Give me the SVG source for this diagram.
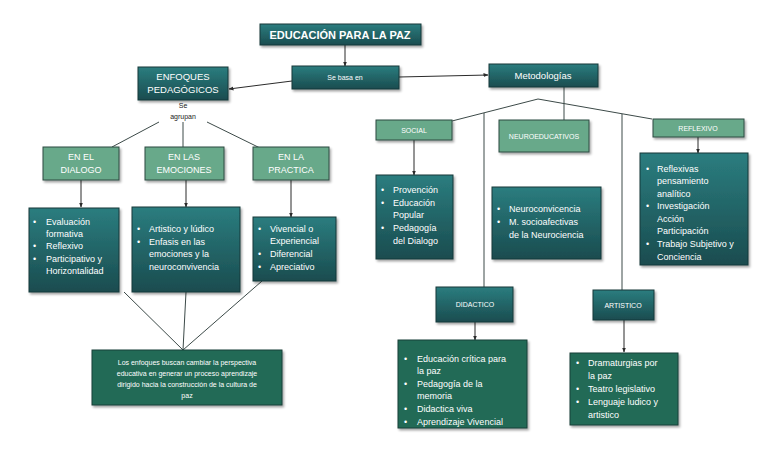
<svg xmlns="http://www.w3.org/2000/svg" width="768" height="466" viewBox="0 0 768 466">
<defs>
<linearGradient id="teal" x1="0" y1="0" x2="0" y2="1">
<stop offset="0" stop-color="#2b7d7f"/>
<stop offset="1" stop-color="#1a4c4f"/>
</linearGradient>
<filter id="sh" x="-10%" y="-10%" width="130%" height="140%">
<feDropShadow dx="1.5" dy="2" stdDeviation="1.2" flood-color="#000" flood-opacity="0.35"/>
</filter>
<marker id="ah" viewBox="0 0 10 10" refX="9" refY="5" markerWidth="5" markerHeight="5" orient="auto">
<path d="M0,1 L10,5 L0,9 z" fill="#2b2b2b"/>
</marker>
<style>
.dk{fill:url(#teal);stroke:#17383a;stroke-width:1;filter:url(#sh)}
.lg{fill:#68a98a;stroke:#2e4a40;stroke-width:1;filter:url(#sh)}
.gr{fill:#246b56;stroke:#1a3f36;stroke-width:1;filter:url(#sh)}
text{font-family:"Liberation Sans","DejaVu Sans",sans-serif;fill:#ffffff}
.c{text-anchor:middle}
.l{font-size:9px}
.s{font-size:7px}
.dt{fill:#222222}
.ln{stroke:#3c4a48;stroke-width:1;fill:none}
.ar{stroke:#2b2b2b;stroke-width:1;fill:none;marker-end:url(#ah)}
</style>
</defs>
<rect width="768" height="466" fill="#ffffff"/>

<g id="connectors">
<line class="ar" x1="345" y1="45" x2="345" y2="66"/>
<line class="ar" x1="292" y1="81" x2="229" y2="89"/>
<line class="ar" x1="399" y1="77" x2="488" y2="75"/>
<line class="ln" x1="159" y1="122" x2="112" y2="147"/>
<line class="ln" x1="183" y1="122" x2="183" y2="147"/>
<line class="ln" x1="207" y1="122" x2="260" y2="148"/>
<line class="ar" x1="81" y1="180" x2="81" y2="207"/>
<line class="ar" x1="186" y1="180" x2="186" y2="207"/>
<line class="ar" x1="291" y1="180" x2="291" y2="217"/>
<line class="ln" x1="124" y1="292" x2="183" y2="350"/>
<line class="ln" x1="186" y1="292" x2="183" y2="350"/>
<line class="ln" x1="262" y1="281" x2="183" y2="350"/>
<line class="ln" x1="564" y1="87" x2="564" y2="120"/>
<polyline class="ln" points="452,121 538,99 652,119"/>
<line class="ln" x1="484" y1="113" x2="484" y2="287"/>
<line class="ln" x1="622" y1="114" x2="622" y2="290"/>
<line class="ar" x1="414" y1="140" x2="414" y2="175"/>
<line class="ar" x1="698" y1="137" x2="698" y2="153"/>
<line class="ar" x1="475" y1="322" x2="475" y2="340"/>
<line class="ar" x1="624" y1="320" x2="624" y2="352"/>
</g>

<g id="title">
<rect class="dk" x="260" y="24" width="161" height="21"/>
<text class="c" x="340" y="38.5" font-size="11" font-weight="bold">EDUCACIÓN PARA LA PAZ</text>
</g>
<g id="sebasa">
<rect class="dk" x="292" y="66" width="107" height="23"/>
<text class="c s" x="345" y="80">Se basa en</text>
</g>
<g id="enfoques">
<rect class="dk" x="138" y="67" width="90" height="33"/>
<text class="c" x="183" y="80" font-size="9.5">ENFOQUES</text>
<text class="c" x="183" y="93" font-size="9.5">PEDAGÓGICOS</text>
</g>
<g id="seagrupan">
<text class="c s dt" x="183" y="108">Se</text>
<text class="c s dt" x="183" y="119">agrupan</text>
</g>
<g id="metodologias">
<rect class="dk" x="489" y="64" width="109" height="23"/>
<text class="c" x="543" y="79" font-size="9.5">Metodologías</text>
</g>

<g id="endialogo">
<rect class="lg" x="43" y="147" width="76" height="33"/>
<text class="c" x="81" y="160" font-size="9">EN EL</text>
<text class="c" x="81" y="173" font-size="9">DIALOGO</text>
</g>
<g id="enemociones">
<rect class="lg" x="145" y="147" width="79" height="33"/>
<text class="c" x="184" y="160" font-size="9">EN LAS</text>
<text class="c" x="184" y="173" font-size="9">EMOCIONES</text>
</g>
<g id="enpractica">
<rect class="lg" x="253" y="147" width="76" height="33"/>
<text class="c" x="291" y="160" font-size="9">EN LA</text>
<text class="c" x="291" y="173" font-size="9">PRACTICA</text>
</g>

<g id="list-dialogo">
<rect class="dk" x="29" y="208" width="90" height="84"/>
<text class="l" x="33" y="225">•</text><text class="l" x="46" y="225">Evaluación</text>
<text class="l" x="46" y="237">formativa</text>
<text class="l" x="33" y="249">•</text><text class="l" x="46" y="249">Reflexivo</text>
<text class="l" x="33" y="262">•</text><text class="l" x="46" y="262">Participativo y</text>
<text class="l" x="46" y="274">Horizontalidad</text>
</g>
<g id="list-emociones">
<rect class="dk" x="132" y="207" width="108" height="85"/>
<text class="l" x="137" y="232">•</text><text class="l" x="149" y="232">Artistico y lúdico</text>
<text class="l" x="137" y="245">•</text><text class="l" x="149" y="245">Enfasis en las</text>
<text class="l" x="149" y="257">emociones y la</text>
<text class="l" x="149" y="270">neuroconvivencia</text>
</g>
<g id="list-practica">
<rect class="dk" x="253" y="217" width="83" height="64"/>
<text class="l" x="258" y="232">•</text><text class="l" x="270" y="232">Vivencial o</text>
<text class="l" x="270" y="244">Experiencial</text>
<text class="l" x="258" y="257">•</text><text class="l" x="270" y="257">Diferencial</text>
<text class="l" x="258" y="270">•</text><text class="l" x="270" y="270">Apreciativo</text>
</g>

<g id="conclusion">
<rect class="gr" x="92" y="350" width="190" height="55"/>
<text class="c" x="187" y="365" font-size="7">Los enfoques buscan cambiar la perspectiva</text>
<text class="c" x="187" y="376" font-size="7">educativa en generar un proceso aprendizaje</text>
<text class="c" x="187" y="387" font-size="7">dirigido hacia la construcción de la cultura de</text>
<text class="c" x="187" y="398" font-size="7">paz</text>
</g>

<g id="social">
<rect class="lg" x="376" y="120" width="76" height="20"/>
<text class="c s" x="414" y="133">SOCIAL</text>
</g>
<g id="neuroeducativos">
<rect class="lg" x="499" y="120" width="90" height="32"/>
<text class="c s" x="544" y="139">NEUROEDUCATIVOS</text>
</g>
<g id="reflexivo">
<rect class="lg" x="653" y="119" width="91" height="18"/>
<text class="c s" x="698" y="131">REFLEXIVO</text>
</g>

<g id="list-social">
<rect class="dk" x="376" y="175" width="77" height="84"/>
<text class="l" x="381" y="193">•</text><text class="l" x="393" y="193">Provención</text>
<text class="l" x="381" y="206">•</text><text class="l" x="393" y="206">Educación</text>
<text class="l" x="393" y="218">Popular</text>
<text class="l" x="381" y="231">•</text><text class="l" x="393" y="231">Pedagogía</text>
<text class="l" x="393" y="244">del Dialogo</text>
</g>
<g id="list-neuro">
<rect class="dk" x="492" y="187" width="109" height="72"/>
<text class="l" x="497" y="212">•</text><text class="l" x="509" y="212">Neuroconvicencia</text>
<text class="l" x="497" y="225">•</text><text class="l" x="509" y="225">M. socioafectivas</text>
<text class="l" x="509" y="238">de la Neurociencia</text>
</g>
<g id="list-reflexivo">
<rect class="dk" x="640" y="153" width="108" height="112"/>
<text class="l" x="646" y="172">•</text><text class="l" x="657" y="172">Reflexivas</text>
<text class="l" x="657" y="184">pensamiento</text>
<text class="l" x="657" y="197">analítico</text>
<text class="l" x="646" y="209">•</text><text class="l" x="657" y="209">Investigación</text>
<text class="l" x="657" y="222">Acción</text>
<text class="l" x="657" y="234">Participación</text>
<text class="l" x="646" y="247">•</text><text class="l" x="657" y="247">Trabajo Subjetivo y</text>
<text class="l" x="657" y="260">Conciencia</text>
</g>

<g id="didactico">
<rect class="dk" x="436" y="287" width="77" height="35"/>
<text class="c s" x="475" y="307">DIDACTICO</text>
</g>
<g id="list-didactico">
<rect class="gr" x="398" y="340" width="129" height="88"/>
<text class="l" x="404" y="362">•</text><text class="l" x="417" y="362">Educación crítica para</text>
<text class="l" x="417" y="374">la paz</text>
<text class="l" x="404" y="387">•</text><text class="l" x="417" y="387">Pedagogía de la</text>
<text class="l" x="417" y="399">memoria</text>
<text class="l" x="404" y="412">•</text><text class="l" x="417" y="412">Didactica viva</text>
<text class="l" x="404" y="425">•</text><text class="l" x="417" y="425">Aprendizaje Vivencial</text>
</g>

<g id="artistico">
<rect class="dk" x="593" y="290" width="61" height="30"/>
<text class="c s" x="623" y="308">ARTISTICO</text>
</g>
<g id="list-artistico">
<rect class="gr" x="570" y="353" width="108" height="72"/>
<text class="l" x="576" y="366">•</text><text class="l" x="588" y="366">Dramaturgias por</text>
<text class="l" x="588" y="379">la paz</text>
<text class="l" x="576" y="392">•</text><text class="l" x="588" y="392">Teatro legislativo</text>
<text class="l" x="576" y="405">•</text><text class="l" x="588" y="405">Lenguaje ludico y</text>
<text class="l" x="588" y="418">artistico</text>
</g>
</svg>
